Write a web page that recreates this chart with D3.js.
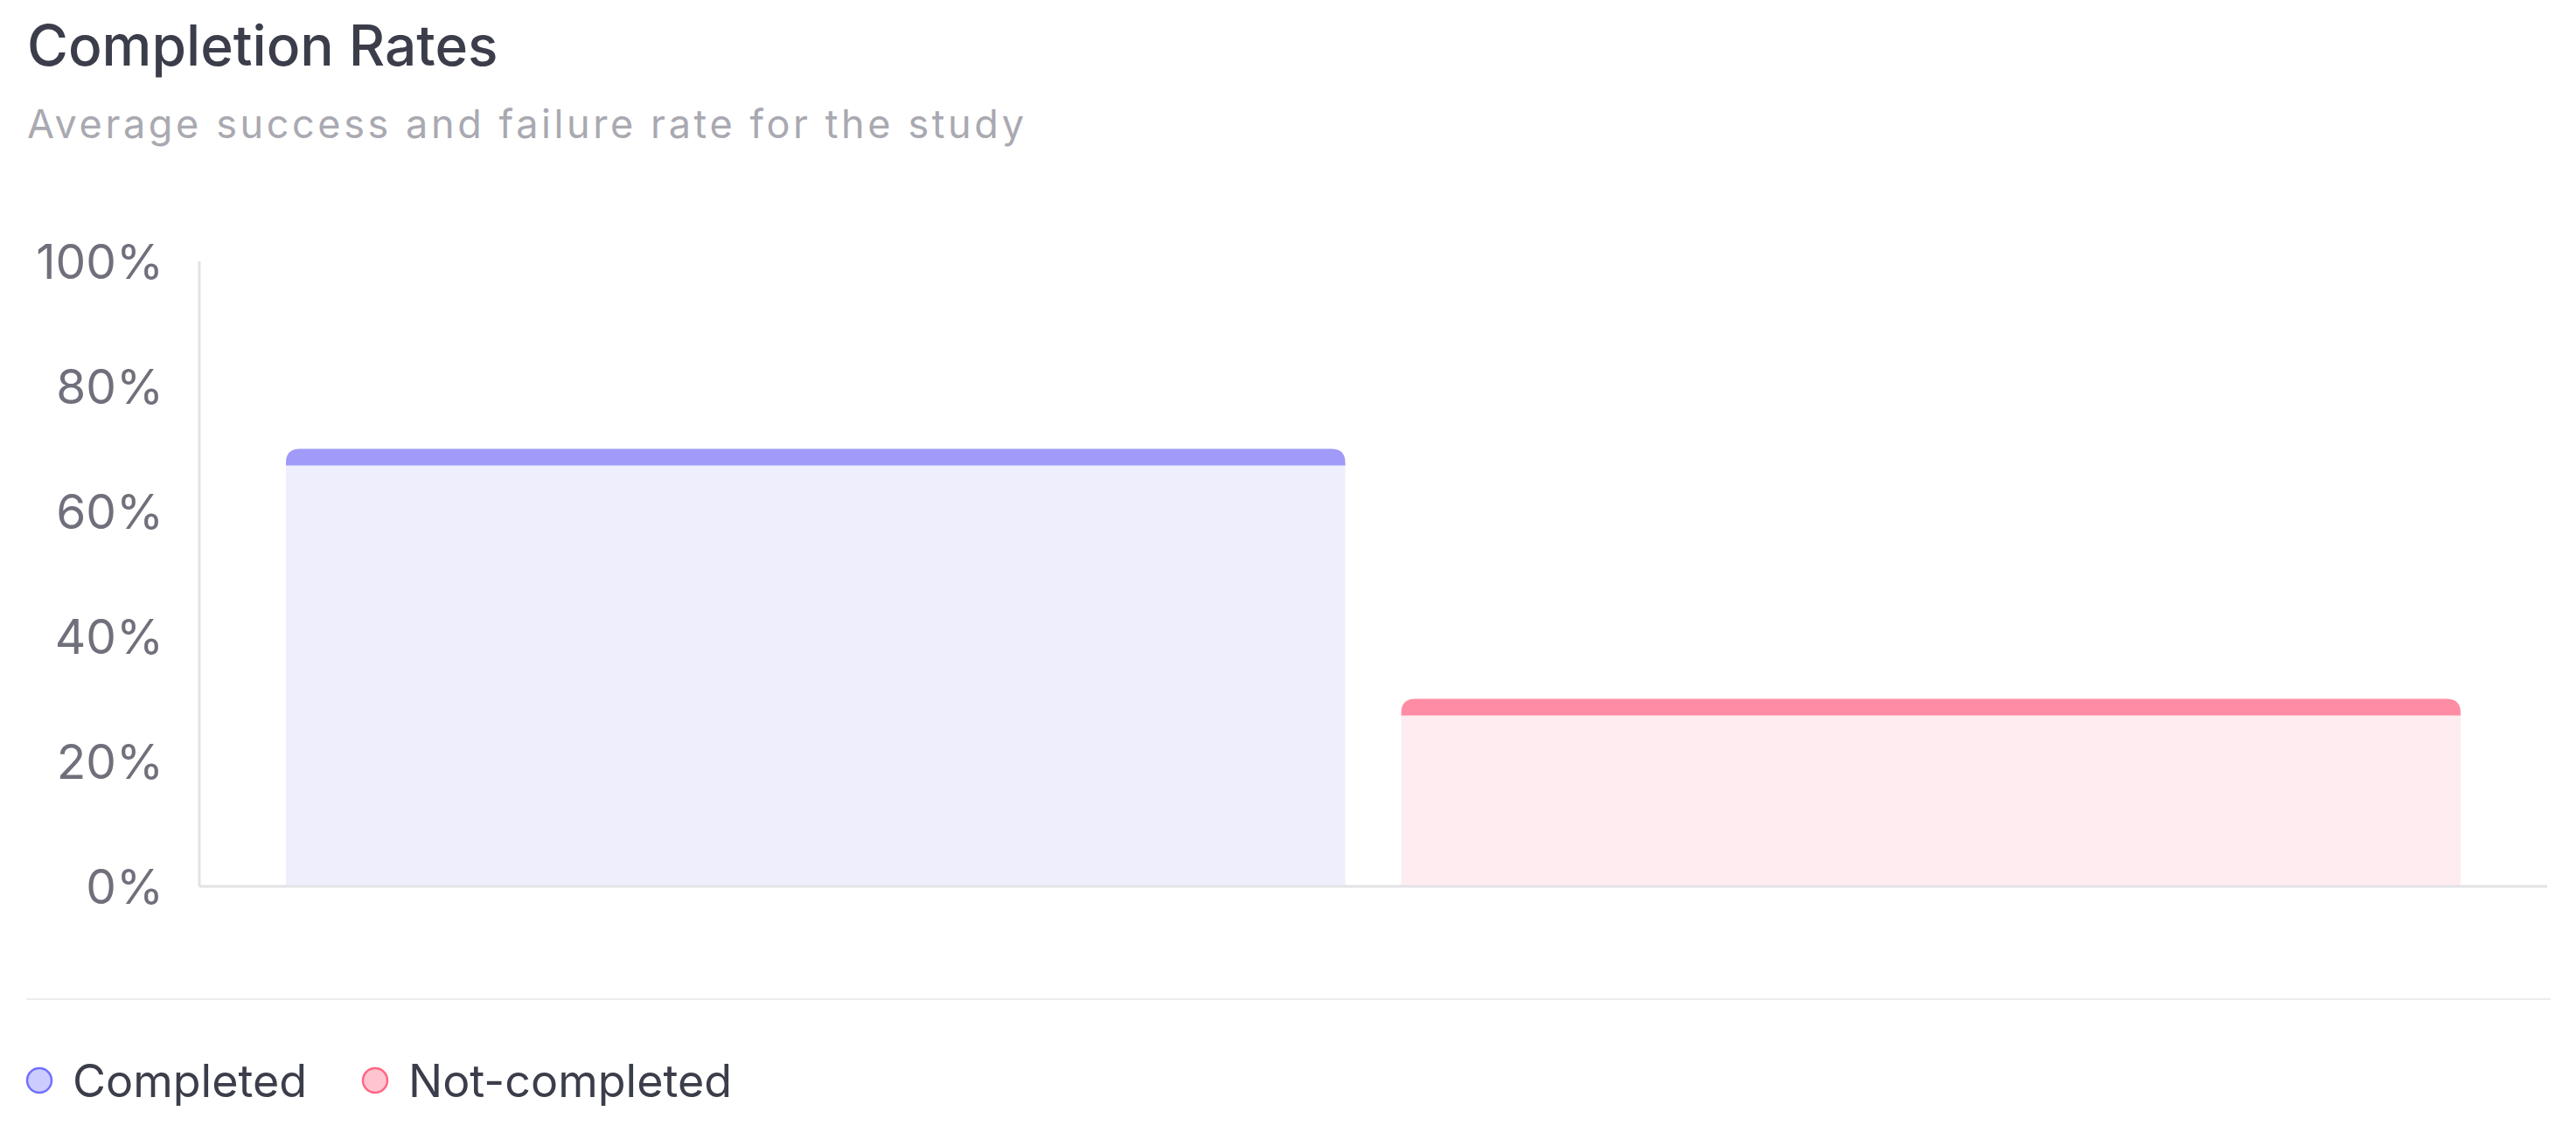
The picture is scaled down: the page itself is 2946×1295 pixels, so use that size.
<!DOCTYPE html>
<html>
<head>
    <meta charset="utf-8">
    <title>Completion Rates</title>
    <style>
        body {
            margin: 0;
            background: #fff;
            font-family: Inter, "Noto Sans", sans-serif;
        }
    </style>
</head>
<body>
    <div id="chart"></div>

    <script src="https://d3js.org/d3.v7.min.js"></script>
    <script>
    // Data
    const groups = ["Study"];
    const seriesNames = ["Completed", "Not-completed"];
    const seriesValues = [70, 30];
    const yTicks = [0, 20, 40, 60, 80, 100];

    const capColors = ["#a09bf8", "#fe8ca5"];
    const fillColors = ["#efeefc", "#feecf0"];
    const markerFill = ["#ccccff", "#ffc4cf"];
    const markerStroke = ["#7070ff", "#ff6684"];

    const W = 2946, H = 1295;
    const plot = {left: 228, right: 2913, top: 299, bottom: 1014};

    const svg = d3.select("#chart").append("svg")
        .attr("width", W)
        .attr("height", H);

    // Title + subtitle
    svg.append("text")
        .attr("x", 31)
        .attr("y", 75)
        .attr("fill", "#3b3e4a")
        .style("font-size", "64px")
        .style("font-weight", 500)
        .text("Completion Rates");

    svg.append("text")
        .attr("x", 31)
        .attr("y", 158)
        .attr("fill", "#a9a9b1")
        .style("font-size", "45px")
        .style("letter-spacing", "3.6px")
        .text("Average success and failure rate for the study");

    // Scales
    const y = d3.scaleLinear()
        .domain([0, 100])
        .range([plot.bottom, plot.top]);

    const x0 = d3.scaleBand()
        .domain(groups)
        .range([plot.left, plot.right])
        .paddingInner(0)
        .paddingOuter(0.0398);

    const x1 = d3.scaleBand()
        .domain(seriesNames)
        .range([0, x0.bandwidth()])
        .paddingInner(0.0502);

    // Y axis labels
    svg.append("g")
        .selectAll("text")
        .data(yTicks)
        .join("text")
        .attr("x", 187)
        .attr("y", d => y(d))
        .attr("dy", "0.36em")
        .attr("text-anchor", "end")
        .attr("fill", "#70707c")
        .style("font-size", "55px")
        .text(d => d + "%");

    // Bars: light body + darker rounded cap
    const cap = 19, r = 16;
    function topRounded(x, yTop, w, h, rad) {
        return `M${x},${yTop + h} L${x},${yTop + rad} Q${x},${yTop} ${x + rad},${yTop}` +
            ` L${x + w - rad},${yTop} Q${x + w},${yTop} ${x + w},${yTop + rad} L${x + w},${yTop + h} Z`;
    }

    const bars = svg.append("g");
    seriesNames.forEach((name, i) => {
        const bx = x0(groups[0]) + x1(name);
        const bw = x1.bandwidth();
        const yt = y(seriesValues[i]);
        bars.append("path")
            .attr("d", topRounded(bx, yt, bw, plot.bottom - yt, r))
            .attr("fill", fillColors[i]);
        bars.append("path")
            .attr("d", topRounded(bx, yt, bw, cap, r))
            .attr("fill", capColors[i]);
    });

    // Axis lines
    svg.append("line")
        .attr("x1", plot.left).attr("x2", plot.left)
        .attr("y1", plot.top).attr("y2", plot.bottom)
        .attr("stroke", "#e3e3e6")
        .attr("stroke-width", 3);
    svg.append("line")
        .attr("x1", plot.left).attr("x2", plot.right)
        .attr("y1", plot.bottom).attr("y2", plot.bottom)
        .attr("stroke", "#e3e3e6")
        .attr("stroke-width", 3);

    // Separator
    svg.append("line")
        .attr("x1", 30).attr("x2", 2917)
        .attr("y1", 1143).attr("y2", 1143)
        .attr("stroke", "#ececee")
        .attr("stroke-width", 2);

    // Legend
    const legendX = [45, 429];
    const legend = svg.append("g")
        .selectAll("g")
        .data(seriesNames)
        .join("g")
        .attr("transform", (d, i) => `translate(${legendX[i]},1236)`);

    legend.append("circle")
        .attr("r", 14)
        .attr("fill", (d, i) => markerFill[i])
        .attr("stroke", (d, i) => markerStroke[i])
        .attr("stroke-width", 2.5);

    legend.append("text")
        .attr("x", 38)
        .attr("dy", "0.36em")
        .attr("fill", "#3b3e4a")
        .style("font-size", "52px")
        .text(d => d);
    </script>
</body>
</html>
